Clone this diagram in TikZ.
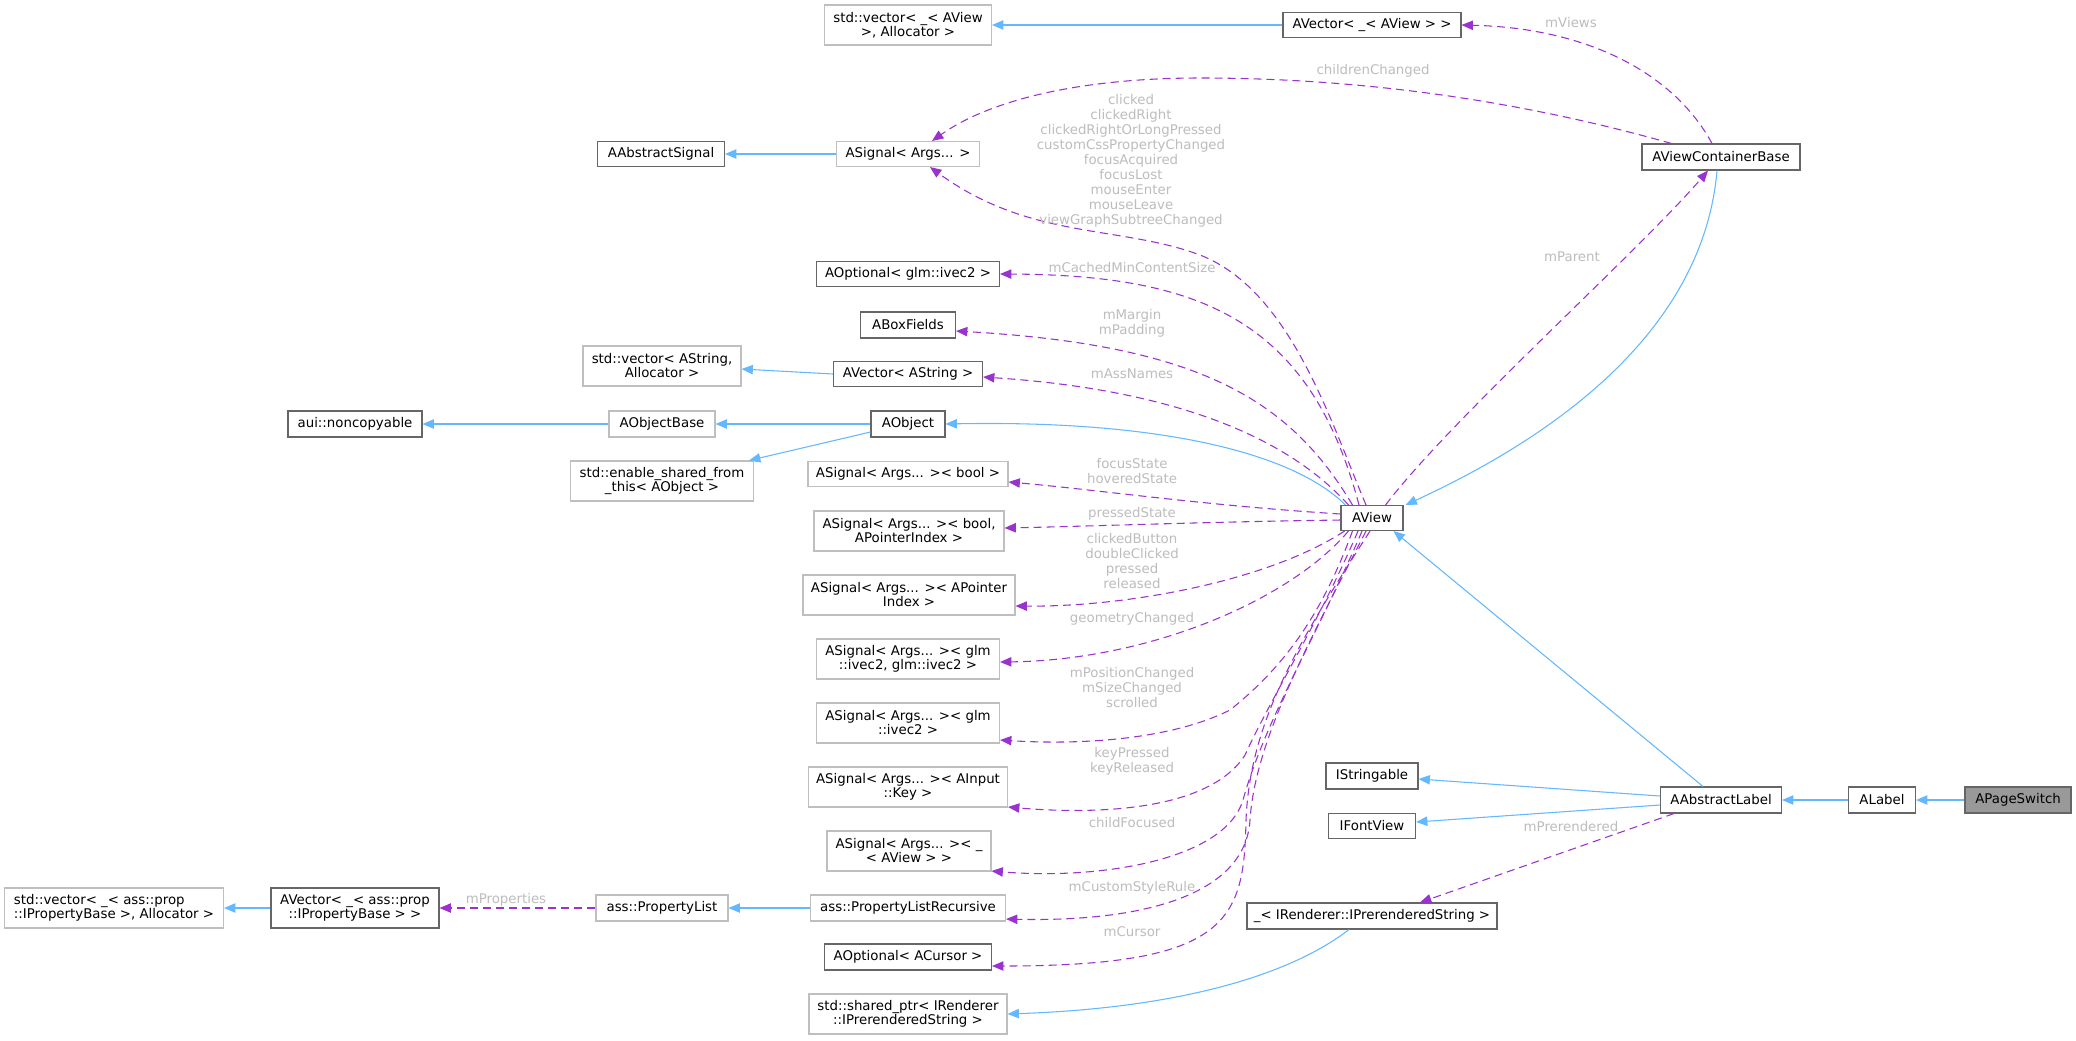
\documentclass[tikz,border=0pt]{standalone}
\usepackage{fontspec}
\setmainfont{DejaVu Sans}
\usetikzlibrary{arrows.meta,calc}
\definecolor{inhblue}{HTML}{63B8FF}
\definecolor{usepurple}{HTML}{9A32CD}
\definecolor{darkbd}{HTML}{666666}
\definecolor{lightbd}{HTML}{BFBFBF}
\definecolor{lblgray}{HTML}{BDBDBD}
\definecolor{selfill}{HTML}{999999}
\newcommand\dxnodefont{\fontsize{10}{10.5}\selectfont}
\newcommand\dxlabfont{\fontsize{10}{11.25}\selectfont}
\tikzset{
  cls/.style={draw=darkbd, line width=0.8pt, fill=white, align=center, inner sep=0pt, font=\dxnodefont},
  ucls/.style={cls, draw=lightbd},
  sz/.style 2 args={minimum width=#1*0.75pt, minimum height=#2*0.75pt},
  inh/.style={draw=inhblue, line width=0.8pt, -{Triangle[length=8.5pt,width=7pt]}},
  use/.style={draw=usepurple, line width=0.8pt, dash pattern=on 6pt off 3.75pt, -{Triangle[length=8.5pt,width=7pt]}},
  lab/.style={text=lblgray, font=\dxlabfont, align=center, inner sep=0pt}
}
\begin{document}
\begin{tikzpicture}[x=0.75pt,y=-0.75pt]
\path[use as bounding box, fill=white] (0,0) rectangle (2076,1040);

% nodes
\node[ucls,sz={167}{40}] (vecAView) at (908,25) {std::vector< \_< AView\\>, Allocator >};
\node[cls,sz={178}{25}] (avecAView) at (1372,25) {AVector< \_< AView > >};
\node[cls,sz={127}{25}] (aabsSig) at (661,154) {AAbstractSignal};
\node[ucls,sz={143}{25}] (asig) at (908,154) {ASignal< Args... >};
\node[cls,sz={158}{26}] (avcb) at (1721,157) {AViewContainerBase};
\node[cls,sz={183}{25}] (aoptivec) at (908,274) {AOptional< glm::ivec2 >};
\node[cls,sz={95}{26}] (abox) at (908,325) {ABoxFields};
\node[ucls,sz={158}{40}] (vecAStr) at (662,366) {std::vector< AString,\\Allocator >};
\node[cls,sz={149}{25}] (avecAStr) at (908,374) {AVector< AString >};
\node[cls,sz={134}{26}] (noncopy) at (355,424) {aui::noncopyable};
\node[ucls,sz={106}{26}] (aobjbase) at (662,424) {AObjectBase};
\node[cls,sz={74}{26}] (aobj) at (908,424) {AObject};
\node[ucls,sz={183}{40}] (enshared) at (662,481) {std::enable\_shared\_from\\\_this< AObject >};
\node[ucls,sz={200}{25}] (sigbool) at (908,474) {ASignal< Args... >< bool >};
\node[ucls,sz={190}{40}] (sigboolptr) at (909,531) {ASignal< Args... >< bool,\\APointerIndex >};
\node[ucls,sz={212}{40}] (sigptr) at (909,595) {ASignal< Args... >< APointer\\Index >};
\node[ucls,sz={183}{40}] (sigvv) at (908,659) {ASignal< Args... >< glm\\::ivec2, glm::ivec2 >};
\node[ucls,sz={183}{40}] (sigv) at (908,723) {ASignal< Args... >< glm\\::ivec2 >};
\node[ucls,sz={199}{40}] (sigkey) at (908,787) {ASignal< Args... >< AInput\\::Key >};
\node[ucls,sz={164}{40}] (sigaview) at (909,851) {ASignal< Args... >< \_\\< AView > >};
\node[ucls,sz={195}{26}] (plrec) at (908,908) {ass::PropertyListRecursive};
\node[cls,sz={167}{26}] (aoptcur) at (908,957) {AOptional< ACursor >};
\node[ucls,sz={198}{40}] (shptr) at (908,1014) {std::shared\_ptr< IRenderer\\::IPrerenderedString >};
\node[ucls,sz={219}{40},align=left] (vecprop) at (114,908) {std::vector< \_< ass::prop\\::IPropertyBase >, Allocator >};
\node[cls,sz={168}{40}] (avecprop) at (355,908) {AVector< \_< ass::prop\\::IPropertyBase > >};
\node[ucls,sz={132}{26}] (plist) at (662,908) {ass::PropertyList};
\node[cls,sz={62}{25}] (aview) at (1372,518) {AView};
\node[cls,sz={92}{26}] (istr) at (1372,776) {IStringable};
\node[cls,sz={87}{25}] (ifont) at (1372,826) {IFontView};
\node[cls,sz={250}{26}] (prerend) at (1372,916) {\_< IRenderer::IPrerenderedString >};
\node[cls,sz={121}{26}] (aabslab) at (1721,800) {AAbstractLabel};
\node[cls,sz={67}{26}] (alabel) at (1882,800) {ALabel};
\node[cls,sz={106}{26},fill=selfill] (apage) at (2018,800) {APageSwitch};

% inheritance
\draw[inh] (avecAView.west) -- (vecAView.east);
\draw[inh] (asig.west) -- (aabsSig.east);
\draw[inh] (avecAStr.west) -- ($(vecAStr.east)+(0,3)$);
\draw[inh] (aobjbase.west) -- (noncopy.east);
\draw[inh] (aobj.west) -- (aobjbase.east);
\draw[inh] ($(aobj.west)+(0,8)$) -- ($(enshared.north east)+(-5,0)$);
\draw[inh] ($(aview.north west)+(5,0)$) .. controls (1290,450) and (1150,420) .. (aobj.east);
\draw[inh] ($(avcb.south)+(-4,0)$) .. controls (1705,310) and (1590,420) .. ($(aview.north east)+(2,0)$);
\draw[inh] ($(aabslab.north)+(-18,0)$) -- ($(aview.south east)+(-10,0)$);
\draw[inh] ($(aabslab.west)+(0,-4)$) -- ($(istr.east)+(0,3)$);
\draw[inh] ($(aabslab.west)+(0,5)$) -- ($(ifont.east)+(0,-4)$);
\draw[inh] (alabel.west) -- (aabslab.east);
\draw[inh] (apage.west) -- (alabel.east);
\draw[inh] ($(prerend.south)+(-23,0)$) .. controls (1290,975) and (1180,1008) .. (shptr.east);
\draw[inh] (plrec.west) -- (plist.east);
\draw[inh] (avecprop.west) -- (vecprop.east);

% usage
\draw[use] ($(avcb.north)+(-9,0)$) .. controls (1675,75) and (1590,28) .. (avecAView.east);
\draw[use] ($(avcb.north west)+(30,0)$) .. controls (1500,95) and (1340,78) .. (1200,78) .. controls (1080,78) and (990,100) .. ($(asig.north)+(24,0)$);
\draw[use] ($(aview.north)+(-6,0)$) .. controls (1330,420) and (1290,290) .. (1200,255) .. controls (1120,225) and (1030,240) .. ($(asig.south)+(22,0)$);
\draw[use] ($(aview.north)+(-13,0)$) .. controls (1310,320) and (1200,275) .. (aoptivec.east);
\draw[use] ($(aview.north west)+(12,0)$) .. controls (1290,400) and (1200,345) .. ($(abox.east)+(0,6)$);
\draw[use] ($(aview.north west)+(8,0)$) .. controls (1290,440) and (1180,390) .. ($(avecAStr.east)+(0,3)$);
\draw[use] ($(aview.west)+(0,-4)$) .. controls (1200,505) and (1100,490) .. ($(sigbool.east)+(0,8)$);
\draw[use] ($(aview.west)+(0,2)$) .. controls (1200,522) and (1100,526) .. ($(sigboolptr.east)+(0,-3)$);
\draw[use] ($(aview.south west)+(4,0)$) .. controls (1270,580) and (1130,607) .. ($(sigptr.east)+(0,11)$);
\draw[use] ($(aview.south west)+(8,0)$) .. controls (1290,600) and (1150,660) .. ($(sigvv.east)+(0,3)$);
\draw[use] ($(aview.south west)+(12,0)$) .. controls (1320,620) and (1280,670) .. (1230,710) .. controls (1170,740) and (1080,745) .. ($(sigv.east)+(0,17)$);
\draw[use] ($(aview.south)+(-14,0)$) .. controls (1320,620) and (1270,700) .. (1245,755) .. controls (1210,810) and (1100,815) .. ($(sigkey.east)+(0,20)$);
\draw[use] ($(aview.south)+(-10,0)$) .. controls (1320,630) and (1265,720) .. (1243,800) .. controls (1225,860) and (1100,880) .. ($(sigaview.east)+(0,20)$);
\draw[use] ($(aview.south)+(-6,0)$) .. controls (1310,640) and (1255,740) .. (1250,820) .. controls (1245,900) and (1130,922) .. ($(plrec.east)+(0,11)$);
\draw[use] ($(aview.south)+(-2,0)$) .. controls (1300,640) and (1250,720) .. (1246,820) .. controls (1244,920) and (1230,966) .. ($(aoptcur.east)+(0,9)$);
\draw[use] ($(aabslab.south west)+(14,0)$) -- ($(prerend.north)+(48,0)$);
\draw[use] ($(aview.north east)+(-18,0)$) .. controls (1450,420) and (1640,250) .. ($(avcb.south)+(-13,0)$);
\draw[use] (plist.west) -- (avecprop.east);

% labels
\node[lab] (lviews) at (1571,23) {mViews};
\node[lab] (lchildren) at (1373,71) {childrenChanged};
\node[lab] (lclicked) at (1131,161) {clicked\\clickedRight\\clickedRightOrLongPressed\\customCssPropertyChanged\\focusAcquired\\focusLost\\mouseEnter\\mouseLeave\\viewGraphSubtreeChanged};
\node[lab] (lcached) at (1132,268) {mCachedMinContentSize};
\node[lab] (lmargin) at (1132,323) {mMargin\\mPadding};
\node[lab] (lass) at (1132,374) {mAssNames};
\node[lab] (lfocus) at (1132,471) {focusState\\hoveredState};
\node[lab] (lpressed) at (1132,514) {pressedState};
\node[lab] (lbutton) at (1132,561) {clickedButton\\doubleClicked\\pressed\\released};
\node[lab] (lgeom) at (1132,619) {geometryChanged};
\node[lab] (lpos) at (1132,688) {mPositionChanged\\mSizeChanged\\scrolled};
\node[lab] (lkey) at (1132,761) {keyPressed\\keyReleased};
\node[lab] (lchild) at (1132,823) {childFocused};
\node[lab] (lstyle) at (1132,888) {mCustomStyleRule};
\node[lab] (lcursor) at (1132,932) {mCursor};
\node[lab] (lprer) at (1571,827) {mPrerendered};
\node[lab] (lparent) at (1572,257) {mParent};
\node[lab] (lprops) at (506,900) {mProperties};
\end{tikzpicture}
\end{document}
